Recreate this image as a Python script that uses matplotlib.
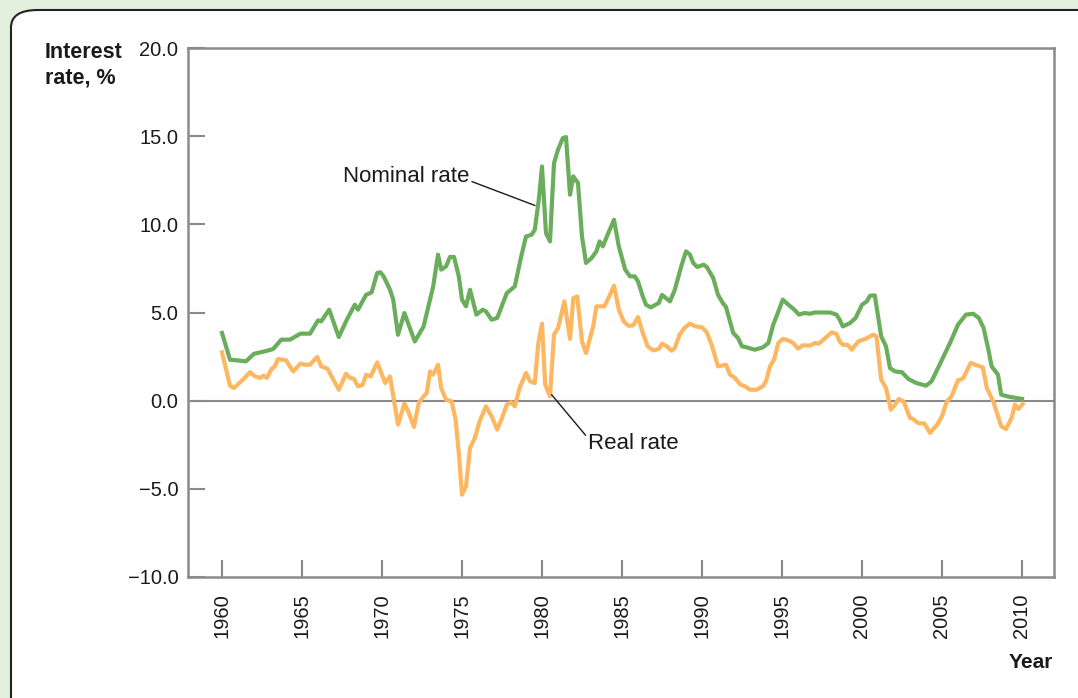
import matplotlib.pyplot as plt
from matplotlib.patches import FancyBboxPatch

plt.rcParams['font.family'] = ['Liberation Sans', 'DejaVu Sans']

# nominal rate (quarterly-ish readings)
nominal_years = [1960.0, 1960.5, 1960.9, 1961.5, 1962.0, 1962.4, 1962.7, 1963.2, 1963.7, 1964.25,
                 1964.9, 1965.5, 1966.0, 1966.2, 1966.7, 1967.3, 1967.8, 1968.3, 1968.5, 1969.0,
                 1969.35, 1969.7, 1969.9, 1970.1, 1970.5, 1970.7, 1971.0, 1971.4, 1972.05, 1972.6,
                 1973.2, 1973.5, 1973.7, 1974.0, 1974.25, 1974.5, 1974.8, 1975.0, 1975.25, 1975.5,
                 1975.9, 1976.3, 1976.5, 1976.85, 1977.2, 1977.8, 1978.3, 1978.7, 1979.0, 1979.35,
                 1979.55, 1979.8, 1980.0, 1980.25, 1980.5, 1980.75, 1981.0, 1981.3, 1981.5, 1981.75,
                 1981.95, 1982.25, 1982.5, 1982.75, 1983.1, 1983.4, 1983.6, 1983.8, 1984.1, 1984.5,
                 1984.8, 1985.2, 1985.5, 1985.8, 1986.0, 1986.3, 1986.5, 1986.8, 1987.3, 1987.5,
                 1988.0, 1988.3, 1988.7, 1989.0, 1989.25, 1989.45, 1989.7, 1990.1, 1990.3, 1990.7,
                 1991.0, 1991.3, 1991.5, 1991.95, 1992.25, 1992.5, 1992.8, 1993.3, 1993.8, 1994.15,
                 1994.45, 1994.7, 1995.05, 1995.4, 1995.77, 1996.06, 1996.4, 1996.75, 1997.06, 1998.0,
                 1998.4, 1998.6, 1998.8, 1999.25, 1999.6, 2000.0, 2000.3, 2000.5, 2000.8, 2001.2,
                 2001.5, 2001.75, 2002.06, 2002.5, 2002.9, 2003.4, 2004.0, 2004.35, 2004.8, 2005.1,
                 2005.5, 2006.0, 2006.5, 2006.95, 2007.3, 2007.6, 2007.9, 2008.1, 2008.5, 2008.7,
                 2009.25, 2010.0]
nominal_rate = [3.84, 2.32, 2.29, 2.23, 2.66, 2.74, 2.80, 2.93, 3.46, 3.46,
                3.80, 3.80, 4.55, 4.50, 5.16, 3.61, 4.59, 5.44, 5.16, 6.00,
                6.14, 7.24, 7.28, 7.05, 6.29, 5.73, 3.74, 4.97, 3.36, 4.21,
                6.48, 8.28, 7.43, 7.61, 8.15, 8.15, 7.05, 5.73, 5.35, 6.29,
                4.88, 5.16, 5.06, 4.59, 4.69, 6.10, 6.48, 8.18, 9.31, 9.41,
                9.69, 11.39, 13.28, 9.50, 9.03, 13.47, 14.23, 14.89, 14.95, 11.68,
                12.72, 12.34, 9.31, 7.81, 8.09, 8.47, 9.03, 8.75, 9.41, 10.26,
                8.75, 7.43, 7.05, 7.05, 6.76, 5.91, 5.44, 5.29, 5.54, 6.00,
                5.63, 6.29, 7.61, 8.47, 8.28, 7.81, 7.58, 7.71, 7.58, 6.96,
                6.00, 5.54, 5.31, 3.84, 3.55, 3.08, 3.02, 2.89, 3.02, 3.27,
                4.31, 4.88, 5.73, 5.44, 5.16, 4.88, 4.97, 4.93, 5.00, 5.00,
                4.88, 4.60, 4.21, 4.40, 4.69, 5.44, 5.63, 5.95, 5.97, 3.65,
                3.08, 1.85, 1.66, 1.61, 1.23, 1.00, 0.85, 1.10, 1.95, 2.51,
                3.27, 4.31, 4.88, 4.93, 4.69, 4.12, 2.89, 1.95, 1.47, 0.34,
                0.21, 0.10]

# real rate
real_years = [1960.0, 1960.5, 1960.75, 1961.2, 1961.75, 1962.06, 1962.4, 1962.6, 1962.8, 1963.1,
              1963.3, 1963.5, 1964.0, 1964.45, 1964.9, 1965.2, 1965.5, 1965.95, 1966.2, 1966.6,
              1967.3, 1967.75, 1968.0, 1968.25, 1968.5, 1968.8, 1969.0, 1969.3, 1969.7, 1970.2,
              1970.5, 1971.0, 1971.4, 1971.6, 1972.0, 1972.3, 1972.6, 1972.8, 1973.0, 1973.2,
              1973.5, 1973.7, 1974.0, 1974.35, 1974.6, 1974.8, 1975.0, 1975.25, 1975.5, 1975.8,
              1976.1, 1976.5, 1976.85, 1977.2, 1977.5, 1977.8, 1978.06, 1978.3, 1978.6, 1979.0,
              1979.25, 1979.55, 1979.77, 1980.0, 1980.2, 1980.5, 1980.75, 1981.0, 1981.4, 1981.75,
              1981.96, 1982.2, 1982.5, 1982.75, 1983.2, 1983.4, 1983.9, 1984.2, 1984.5, 1984.8,
              1985.1, 1985.4, 1985.7, 1986.0, 1986.3, 1986.6, 1986.95, 1987.3, 1987.5, 1987.8,
              1988.1, 1988.3, 1988.6, 1988.9, 1989.25, 1989.6, 1990.0, 1990.3, 1990.6, 1991.0,
              1991.2, 1991.5, 1991.75, 1992.06, 1992.4, 1992.7, 1993.0, 1993.4, 1993.8, 1994.0,
              1994.25, 1994.5, 1994.77, 1995.05, 1995.4, 1995.7, 1996.0, 1996.3, 1996.75, 1997.06,
              1997.3, 1997.7, 1998.1, 1998.4, 1998.6, 1998.8, 1999.1, 1999.35, 1999.77, 2000.2,
              2000.7, 2000.9, 2001.2, 2001.5, 2001.8, 2002.06, 2002.3, 2002.6, 2003.0, 2003.2,
              2003.5, 2003.9, 2004.25, 2004.7, 2005.0, 2005.3, 2005.6, 2006.0, 2006.3, 2006.8,
              2007.2, 2007.55, 2007.8, 2008.2, 2008.7, 2009.0, 2009.35, 2009.56, 2009.77, 2010.04]
real_rate = [2.74, 0.85, 0.72, 1.10, 1.61, 1.38, 1.29, 1.42, 1.29, 1.80,
             1.95, 2.36, 2.29, 1.66, 2.10, 2.04, 2.04, 2.48, 1.95, 1.80,
             0.62, 1.53, 1.29, 1.23, 0.81, 0.91, 1.47, 1.38, 2.17, 1.00,
             1.38, -1.36, -0.17, -0.51, -1.49, -0.13, 0.25, 0.44, 1.66, 1.47,
             2.04, 0.72, 0.06, -0.04, -1.08, -2.97, -5.33, -4.86, -2.68, -2.12,
             -1.17, -0.32, -0.89, -1.64, -0.98, -0.23, -0.09, -0.32, 0.72, 1.57,
             1.10, 1.00, 3.27, 4.37, 0.91, 0.25, 3.74, 4.12, 5.63, 3.50,
             5.82, 5.91, 3.36, 2.70, 4.21, 5.35, 5.35, 5.91, 6.52, 5.16,
             4.50, 4.25, 4.27, 4.74, 3.84, 3.08, 2.85, 2.93, 3.23, 3.08,
             2.83, 2.99, 3.74, 4.12, 4.37, 4.21, 4.16, 3.87, 3.17, 1.95,
             1.98, 2.04, 1.47, 1.29, 0.91, 0.81, 0.62, 0.62, 0.81, 1.10,
             1.95, 2.32, 3.27, 3.50, 3.42, 3.27, 2.95, 3.14, 3.12, 3.27,
             3.23, 3.55, 3.87, 3.80, 3.36, 3.17, 3.17, 2.89, 3.36, 3.50,
             3.74, 3.65, 1.19, 0.72, -0.51, -0.23, 0.10, -0.04, -0.98, -1.04,
             -1.27, -1.30, -1.83, -1.36, -0.89, -0.04, 0.25, 1.15, 1.25, 2.14,
             2.00, 1.89, 0.72, -0.04, -1.45, -1.61, -0.98, -0.23, -0.47, -0.19]

year_ticks = list(range(1960, 2011, 5))
rate_ticks = [-10, -5, 0, 5, 10, 15, 20]

green = '#6aae5c'
orange = '#fdb761'
gray = '#8a8a8a'
ink = '#1a1a1a'
fs = 14.5

fig = plt.figure(figsize=(10.78, 6.98), dpi=100)
fig.patch.set_facecolor('#e2efdc')

# white rounded panel, runs off the right and bottom edges
panel = FancyBboxPatch((11 / 1078, -0.1), 1.2, 1 - 10 / 698 + 0.1,
                       boxstyle='round,pad=0,rounding_size=0.025',
                       transform=fig.transFigure, facecolor='white',
                       edgecolor='#222222', linewidth=1.5, zorder=-5)
fig.patches.append(panel)

ax = fig.add_axes([188 / 1078, 1 - 577 / 698, 866 / 1078, 529 / 698])
ax.set_facecolor('white')

ax.axhline(0, color=gray, linewidth=1.5, zorder=1)
ax.plot(nominal_years, nominal_rate, color=green, linewidth=3.0, zorder=3,
        solid_joinstyle='round')
ax.plot(real_years, real_rate, color=orange, linewidth=3.0, zorder=3,
        solid_joinstyle='round')

ax.set_xlim(1957.875, 2012.0)
ax.set_ylim(-10, 20)
ax.set_xticks(year_ticks)
ax.set_xticklabels([str(y) for y in year_ticks], rotation=90)
ax.set_yticks(rate_ticks)
ax.set_yticklabels([f'{v:.1f}'.replace('-', '\u2212') for v in rate_ticks])

for s in ax.spines.values():
    s.set_color(gray)
    s.set_linewidth(1.8)

ax.tick_params(axis='both', direction='in', length=12, width=1.5, color=gray,
               labelsize=fs, labelcolor=ink)
ax.tick_params(axis='x', pad=12)
ax.tick_params(axis='y', pad=7)

# annotations
ax.annotate('Nominal rate', xy=(1979.56, 11.07), xytext=(1975.45, 12.72),
            ha='right', va='center', fontsize=16, color=ink,
            arrowprops=dict(arrowstyle='-', color=ink, lw=1.0,
                            shrinkA=0, shrinkB=0, relpos=(1, 0.3)))
ax.annotate('Real rate', xy=(1980.6, 0.34), xytext=(1982.9, -2.45),
            ha='left', va='center', fontsize=16, color=ink,
            arrowprops=dict(arrowstyle='-', color=ink, lw=1.0,
                            shrinkA=0, shrinkB=0, relpos=(0, 0.75)))

fig.text(45 / 1078, 1 - 42 / 698, 'Interest\nrate, %', ha='left', va='top',
         fontsize=15.5, fontweight='bold', color=ink, linespacing=1.3)
fig.text(1053 / 1078, 1 - 663 / 698, 'Year', ha='right', va='center',
         fontsize=15, fontweight='bold', color=ink)

fig.savefig('out.png', dpi=100, facecolor=fig.get_facecolor())
